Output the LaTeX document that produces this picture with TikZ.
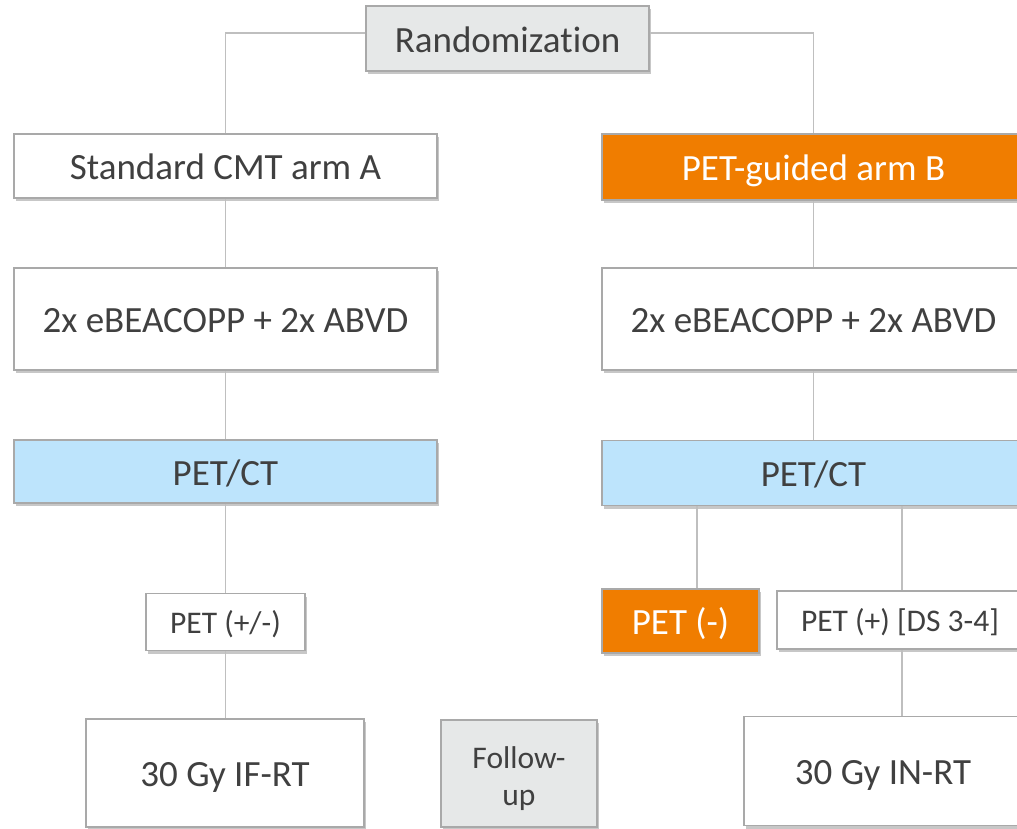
\documentclass[tikz,border=0pt]{standalone}
\usepackage{fontspec}
\setmainfont{Carlito}[Ligatures=NoCommon]
\usetikzlibrary{shadows}
\definecolor{txt}{HTML}{404040}
\definecolor{bord}{HTML}{A9A9A9}
\definecolor{conn}{HTML}{BFBFBF}
\definecolor{orng}{HTML}{F07D00}
\definecolor{lblue}{HTML}{BDE4FC}
\definecolor{lgrey}{HTML}{E6E8E8}
\tikzset{
  plainbox/.style={draw=bord, line width=1.4pt, fill=white, text=txt, inner sep=0pt,
    font=\fontsize{37}{44}\selectfont,
    drop shadow={shadow xshift=2pt, shadow yshift=-3pt, fill=black, opacity=0.22}},
  box/.style={plainbox, text height=33.3pt, text depth=5.9pt},
  smallbox/.style={plainbox, font=\fontsize{31.5}{38}\selectfont, text height=28.4pt, text depth=5pt},
  orangebox/.style={fill=orng, text=white, draw=bord},
  bluebox/.style={fill=lblue},
  greybox/.style={fill=lgrey},
  conn/.style={draw=conn, line width=1.4pt},
}
\begin{document}
\begin{tikzpicture}[x=1pt, y=-1pt]
\useasboundingbox (0,0) rectangle (1017,829);
\fill[white] (0,0) rectangle (1017,829);
\clip (0,0) rectangle (1017,829);

\node[box, greybox, minimum width=283pt, minimum height=65pt] (rand) at (507.5,38.5) {Randomization};
\node[box, minimum width=423pt, minimum height=64pt] (stdA) at (225.5,166) {Standard CMT arm A};
\node[box, orangebox, minimum width=423pt, minimum height=66pt] (armB) at (813.5,167) {PET-guided arm B};
\node[box, minimum width=423pt, minimum height=102pt] (chemoA) at (225.5,319) {2x eBEACOPP + 2x ABVD};
\node[box, minimum width=423pt, minimum height=102pt] (chemoB) at (813.5,319) {2x eBEACOPP + 2x ABVD};
\node[box, bluebox, minimum width=423pt, minimum height=63pt] (petA) at (225.5,471.5) {PET/CT};
\node[box, bluebox, minimum width=423pt, minimum height=65pt] (petB) at (813.5,473) {PET/CT};
\node[smallbox, minimum width=159pt, minimum height=57pt] (pmA) at (225.5,622) {PET (+/-)};
\node[box, orangebox, minimum width=157pt, minimum height=64pt] (pneg) at (680.5,621) {PET (-)};
\node[smallbox, minimum width=246pt, minimum height=58pt] (ppos) at (900,620) {PET (+) [DS 3-4]};
\node[box, minimum width=278pt, minimum height=108pt] (rtA) at (225,773) {30 Gy IF-RT};
\node[plainbox, greybox, font=\fontsize{31.5}{37}\selectfont, minimum width=156pt, minimum height=107pt] (fu) at (519,773.5)
  {\raisebox{0pt}[40pt][14.4pt]{\begin{tabular}{@{}c@{}}Follow-\\up\end{tabular}}};
\node[box, minimum width=278pt, minimum height=109pt] (rtB) at (883,771) {30 Gy IN-RT};

\coordinate (ly) at (0,33);
\coordinate (xneg) at (697,0);
\coordinate (xpos) at (902,0);

\draw[conn] (rand.west |- ly) -| (stdA.north);
\draw[conn] (rand.east |- ly) -| (armB.north);
\draw[conn] (stdA.south) -- (chemoA.north);
\draw[conn] (armB.south) -- (chemoB.north);
\draw[conn] (chemoA.south) -- (petA.north);
\draw[conn] (chemoB.south) -- (petB.north);
\draw[conn] (petA.south) -- (pmA.north);
\draw[conn] (pmA.south) -- (pmA.south |- rtA.north);
\draw[conn] (xneg |- petB.south) -- (xneg |- pneg.north);
\draw[conn] (xpos |- petB.south) -- (xpos |- ppos.north);
\draw[conn] (xpos |- ppos.south) -- (xpos |- rtB.north);
\end{tikzpicture}
\end{document}
